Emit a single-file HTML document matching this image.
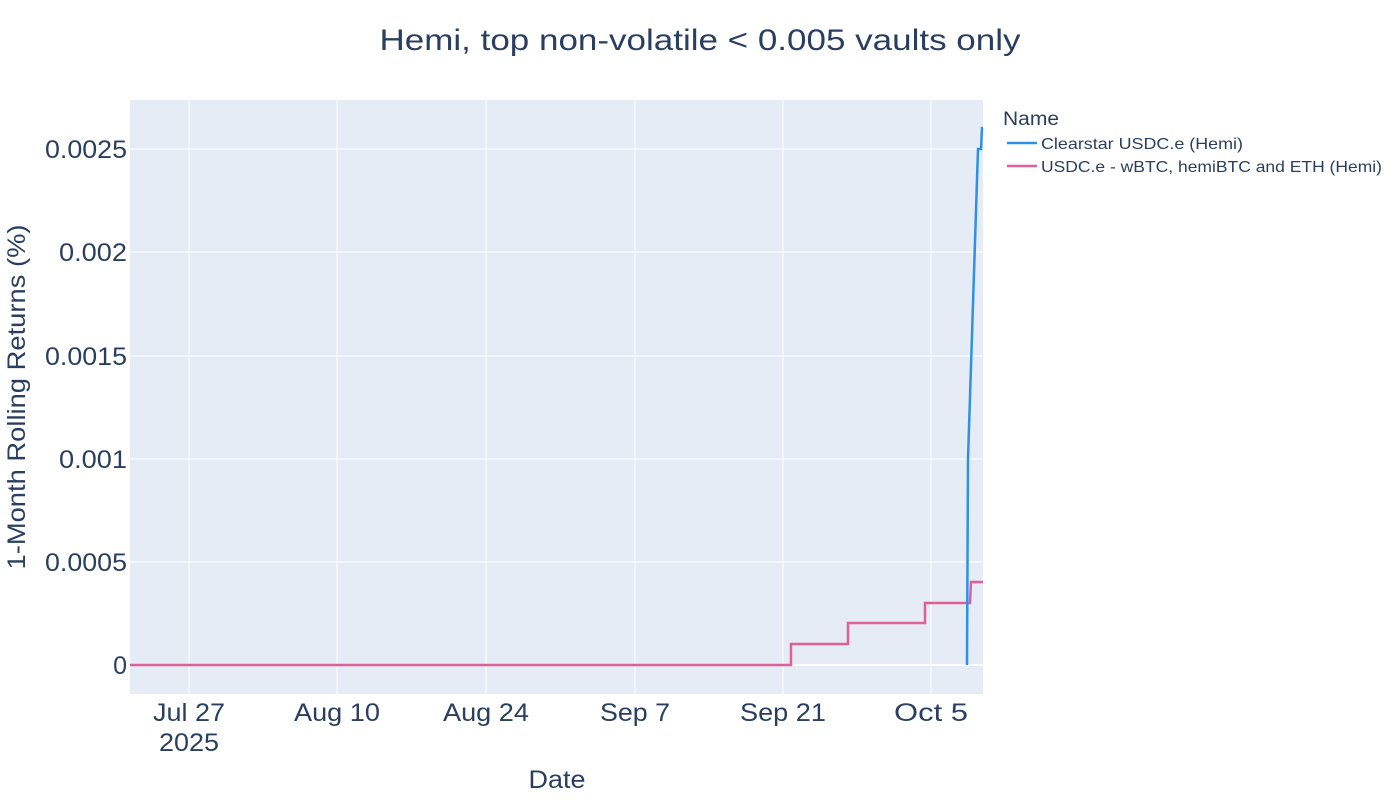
<!DOCTYPE html>
<html><head><meta charset="utf-8"><style>
body{margin:0;background:#fff;font-family:"Liberation Sans",Arial,sans-serif;}
</style></head><body>
<svg width="1400" height="800" xmlns="http://www.w3.org/2000/svg" font-family="Liberation Sans, Arial, sans-serif">
<rect x="130" y="100" width="853" height="594" fill="#e5ecf6"/>
<g stroke="#fff" stroke-width="1">
<line x1="189" y1="100" x2="189" y2="694"/><line x1="337" y1="100" x2="337" y2="694"/>
<line x1="486" y1="100" x2="486" y2="694"/><line x1="635" y1="100" x2="635" y2="694"/>
<line x1="783" y1="100" x2="783" y2="694"/><line x1="931" y1="100" x2="931" y2="694"/>
<line x1="130" y1="149" x2="983" y2="149"/><line x1="130" y1="252" x2="983" y2="252"/>
<line x1="130" y1="356" x2="983" y2="356"/><line x1="130" y1="459" x2="983" y2="459"/>
<line x1="130" y1="562" x2="983" y2="562"/>
</g>
<line x1="130" y1="665" x2="983" y2="665" stroke="#fff" stroke-width="2"/>
<polyline fill="none" stroke="#e15f99" stroke-width="2.5" points="130,665 791,665 791,644 848,644 848,623 925,623 925,603 970,603 971,582 983,582"/>
<polyline fill="none" stroke="#2e91e5" stroke-width="2.5" points="967,665 968,459 978,149 981,149 982,128 983,128"/>
<g fill="#2a3f5f" font-size="25" text-anchor="end">
<text x="127" y="158" textLength="82" lengthAdjust="spacingAndGlyphs">0.0025</text>
<text x="127" y="261" textLength="68" lengthAdjust="spacingAndGlyphs">0.002</text>
<text x="127" y="365" textLength="82" lengthAdjust="spacingAndGlyphs">0.0015</text>
<text x="127" y="468" textLength="68" lengthAdjust="spacingAndGlyphs">0.001</text>
<text x="127" y="571" textLength="82" lengthAdjust="spacingAndGlyphs">0.0005</text>
<text x="127" y="674">0</text>
</g>
<g fill="#2a3f5f" font-size="25" text-anchor="middle">
<text x="189" y="721" textLength="72" lengthAdjust="spacingAndGlyphs">Jul 27</text>
<text x="189" y="751" textLength="60" lengthAdjust="spacingAndGlyphs">2025</text>
<text x="337" y="721" textLength="86" lengthAdjust="spacingAndGlyphs">Aug 10</text>
<text x="486" y="721" textLength="86" lengthAdjust="spacingAndGlyphs">Aug 24</text>
<text x="635" y="721" textLength="70" lengthAdjust="spacingAndGlyphs">Sep 7</text>
<text x="783" y="721" textLength="86" lengthAdjust="spacingAndGlyphs">Sep 21</text>
<text x="931" y="721" textLength="74" lengthAdjust="spacingAndGlyphs">Oct 5</text>
<text x="557" y="788" textLength="57" lengthAdjust="spacingAndGlyphs">Date</text>
<text x="700" y="50" font-size="30" textLength="641" lengthAdjust="spacingAndGlyphs">Hemi, top non-volatile &lt; 0.005 vaults only</text>
</g>
<text transform="translate(25,397) rotate(-90)" fill="#2a3f5f" font-size="25" text-anchor="middle" textLength="345" lengthAdjust="spacingAndGlyphs">1-Month Rolling Returns (%)</text>
<text x="1003" y="125" fill="#2a3f5f" font-size="19" textLength="56" lengthAdjust="spacingAndGlyphs">Name</text>
<line x1="1007" y1="143" x2="1037" y2="143" stroke="#2e91e5" stroke-width="2.5"/>
<text x="1041" y="149" fill="#2a3f5f" font-size="16" textLength="202" lengthAdjust="spacingAndGlyphs">Clearstar USDC.e (Hemi)</text>
<line x1="1007" y1="166" x2="1037" y2="166" stroke="#e15f99" stroke-width="2.5"/>
<text x="1041" y="172" fill="#2a3f5f" font-size="16" textLength="341" lengthAdjust="spacingAndGlyphs">USDC.e - wBTC, hemiBTC and ETH (Hemi)</text>
</svg>
</body></html>
